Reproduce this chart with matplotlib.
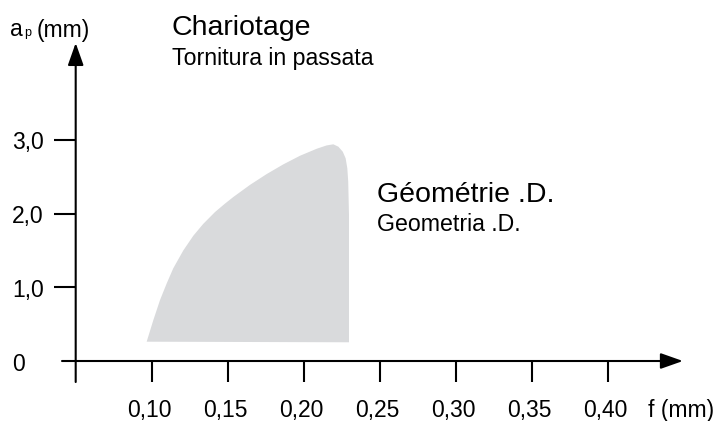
import matplotlib
matplotlib.use("Agg")
import matplotlib.pyplot as plt

plt.rcParams['font.family'] = ['Liberation Sans', 'DejaVu Sans']

# ---- data ----
x_ticks = [0.10, 0.15, 0.20, 0.25, 0.30, 0.35, 0.40]
x_tick_labels = ["0,10", "0,15", "0,20", "0,25", "0,30", "0,35", "0,40"]
y_ticks = [0, 1.0, 2.0, 3.0]
y_tick_labels = ["0", "1,0", "2,0", "3,0"]

# boundary of the shaded working zone (f in mm, ap in mm)
zone_f = [0.0967, 0.1011, 0.1055, 0.1099, 0.1142, 0.1208, 0.1274, 0.1339,
          0.1416, 0.1482, 0.1537, 0.1647, 0.1757, 0.1866, 0.1976, 0.2086,
          0.2151, 0.2195, 0.2228, 0.2257, 0.2276, 0.2287, 0.2293, 0.2298,
          0.2298]
zone_ap = [0.262, 0.556, 0.828, 1.054, 1.258, 1.500, 1.700, 1.860,
           2.020, 2.135, 2.225, 2.390, 2.537, 2.668, 2.785, 2.880,
           2.925, 2.940, 2.908, 2.840, 2.750, 2.615, 2.433, 1.981,
           0.254]

W, H = 727, 421
fig = plt.figure(figsize=(W / 100, H / 100), dpi=100)
ax = fig.add_axes([0, 0, 1, 1])
ax.set_xlim(0.0002, 0.4785)
ax.set_ylim(-0.814, 4.898)
ax.axis('off')

# shaded zone
ax.fill(zone_f, zone_ap, color='#d9dadc', lw=0, zorder=1)

lw = 1.5
x_origin = 0.05
# axes with arrows
arrow = dict(arrowstyle='-|>,head_length=0.68,head_width=0.24',
             mutation_scale=20, lw=lw, color='black',
             shrinkA=0, shrinkB=0)
ax.annotate('', xy=(0.4495, 0), xytext=(0.041, 0), arrowprops=arrow, zorder=3)
ax.annotate('', xy=(x_origin, 4.315), xytext=(x_origin, -0.285),
            arrowprops=arrow, zorder=3)

# x ticks
for xt in x_ticks:
    ax.plot([xt, xt], [0, -0.285], color='black', lw=lw,
            solid_capstyle='butt', zorder=3)
# y ticks
for yt in y_ticks[1:]:
    ax.plot([x_origin - 0.0145, x_origin], [yt, yt], color='black', lw=lw,
            solid_capstyle='butt', zorder=3)

fs_tick = 16.5
for xt, lab in zip(x_ticks, x_tick_labels):
    ax.text(xt - 0.0015, -0.762, lab, ha='center', va='baseline', fontsize=fs_tick)
for yt, lab in zip(y_ticks, y_tick_labels):
    ax.text(0.0081, yt - 0.13, lab, ha='left', va='baseline', fontsize=fs_tick)


def ftext(px, py, s, size):
    fig.text(px / W, 1 - py / H, s, ha='left', va='baseline', fontsize=size)


ftext(10, 36.5, 'a', fs_tick)
ftext(24, 36, 'p', 9)
ftext(36.5, 36.5, '(mm)', fs_tick)
ftext(648, 417, 'f (mm)', fs_tick)
ftext(171.7, 35, 'Chariotage', 20.5)
ftext(171.7, 65, 'Tornitura in passata', 16.7)
ftext(376.7, 202, 'Géométrie .D.', 20.5)
ftext(376.7, 231, 'Geometria .D.', 16.7)

fig.savefig('out.png', dpi=100)
